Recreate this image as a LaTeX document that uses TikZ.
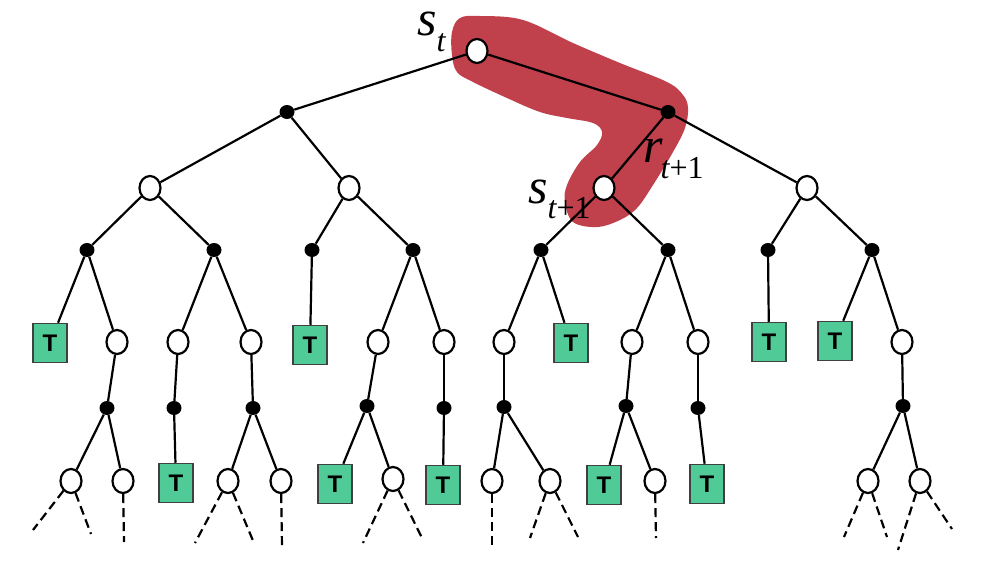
\documentclass[tikz,border=0pt]{standalone}
\usepackage{fontspec}
\setmainfont{Liberation Serif}
\newfontfamily\tfont{Liberation Sans}
\newfontfamily\lblfont{Liberation Serif}
\usetikzlibrary{shapes.geometric}
\definecolor{blobred}{RGB}{192,64,76}
\definecolor{tgreen}{RGB}{80,203,152}
\begin{document}
\begin{tikzpicture}[x=1pt,y=-1pt,
  snode/.style={ellipse,draw,line width=2.2pt,fill=white,minimum width=21pt,minimum height=24pt,inner sep=0pt},
  anode/.style={ellipse,fill=black,minimum width=15pt,minimum height=14pt,inner sep=0pt},
  tnode/.style={rectangle,draw=black!75,line width=1.5pt,fill=tgreen,minimum width=34pt,minimum height=39pt,inner sep=0pt,font=\tfont\bfseries\fontsize{24}{24}\selectfont},
  link/.style={line width=2.2pt},
  cont/.style={line width=2.2pt,dash pattern=on 9pt off 5pt},
  lbl/.style={inner sep=0pt,text height=24pt,text depth=16pt,font=\lblfont\itshape\fontsize{50}{50}\selectfont},
]
\useasboundingbox (0,0) rectangle (986,563);
% highlight blob
\fill[blobred] plot[smooth cycle, tension=0.6] coordinates {
 (460,18) (480,16) (523,20) (573,43) (620,63) (667,82) (683,95) (688,108)
 (685,128) (673,152) (653,185) (637,208) (620,220) (597,227) (573,222)
 (565,202) (567,185) (580,162) (597,145) (602,132) (593,123) (567,118)
 (540,112) (507,98) (473,82) (457,72) (452,55) (452,32)};
% level 0-2
\node[snode] (root) at (477,51) {};
\node[anode] (a1) at (287,112) {};
\node[anode] (a2) at (668,112) {};
\node[snode] (b1) at (150,188) {};
\node[snode] (b2) at (349,188) {};
\node[snode] (b3) at (604,188) {};
\node[snode] (b4) at (807,188) {};
% level 3
\node[anode] (c1) at (87,250) {};
\node[anode] (c2) at (214,250) {};
\node[anode] (c3) at (312,250) {};
\node[anode] (c4) at (413,250) {};
\node[anode] (c5) at (541,250) {};
\node[anode] (c6) at (668,250) {};
\node[anode] (c7) at (768,250) {};
\node[anode] (c8) at (872,250) {};
% level 4
\node[tnode] (d1) at (50,343) {T};
\node[snode] (d2) at (117,342) {};
\node[snode] (d3) at (178,342) {};
\node[snode] (d4) at (251,342) {};
\node[tnode] (d5) at (310,345) {T};
\node[snode] (d6) at (378,342) {};
\node[snode] (d7) at (444,342) {};
\node[snode] (d8) at (504,342) {};
\node[tnode] (d9) at (571,343) {T};
\node[snode] (d10) at (632,342) {};
\node[snode] (d11) at (698,342) {};
\node[tnode] (d12) at (769,342) {T};
\node[tnode] (d13) at (835,341) {T};
\node[snode] (d14) at (902,342) {};
% level 5
\node[anode] (e1) at (107,408) {};
\node[anode] (e2) at (174,408) {};
\node[anode] (e3) at (253,408) {};
\node[anode] (e4) at (367,406) {};
\node[anode] (e5) at (444,408) {};
\node[anode] (e6) at (504,407) {};
\node[anode] (e7) at (626,406) {};
\node[anode] (e8) at (698,408) {};
\node[anode] (e9) at (903,406) {};
% level 6
\node[snode] (f1) at (71,481) {};
\node[snode] (f2) at (123,481) {};
\node[tnode] (f3) at (176,483) {T};
\node[snode] (f4) at (228,481) {};
\node[snode] (f5) at (281,481) {};
\node[tnode] (f6) at (335,484) {T};
\node[snode] (f7) at (393,479) {};
\node[tnode] (f8) at (443,485) {T};
\node[snode] (f9) at (492,481) {};
\node[snode] (f10) at (550,481) {};
\node[tnode] (f11) at (604,485) {T};
\node[snode] (f12) at (655,481) {};
\node[tnode] (f13) at (707,484) {T};
\node[snode] (f14) at (868,481) {};
\node[snode] (f15) at (920,481) {};
% dashed continuation ends
\coordinate (g1) at (33,530);
\coordinate (g2) at (91,534);
\coordinate (g3) at (124,542);
\coordinate (g4) at (195,543);
\coordinate (g5) at (254,543);
\coordinate (g6) at (282,547);
\coordinate (g7) at (363,543);
\coordinate (g8) at (422,538);
\coordinate (g9) at (492,547);
\coordinate (g10) at (530,538);
\coordinate (g11) at (578,537);
\coordinate (g12) at (656,538);
\coordinate (g13) at (844,537);
\coordinate (g14) at (887,537);
\coordinate (g15) at (898,550);
\coordinate (g16) at (952,529);
% edges
\foreach \p/\c in {root/a1,root/a2,a1/b1,a1/b2,a2/b3,a2/b4,
  b1/c1,b1/c2,b2/c3,b2/c4,b3/c5,b3/c6,b4/c7,b4/c8,
  c1/d1,c1/d2,c2/d3,c2/d4,c3/d5,c4/d6,c4/d7,c5/d8,c5/d9,c6/d10,c6/d11,c7/d12,c8/d13,c8/d14,
  d2/e1,d3/e2,d4/e3,d6/e4,d7/e5,d8/e6,d10/e7,d11/e8,d14/e9,
  e1/f1,e1/f2,e2/f3,e3/f4,e3/f5,e4/f6,e4/f7,e5/f8,e6/f9,e6/f10,e7/f11,e7/f12,e8/f13,e9/f14,e9/f15}
  \draw[link] (\p) -- (\c);
\foreach \p/\c in {f1/g1,f1/g2,f2/g3,f4/g4,f4/g5,f5/g6,f7/g7,f7/g8,f9/g9,
  f10/g10,f10/g11,f12/g12,f14/g13,f14/g14,f15/g15,f15/g16}
  \draw[cont] (\p) -- (\c);
% labels
\node[lbl,anchor=base west] (lst) at (417,35) {s\raisebox{-16pt}{\fontsize{32}{32}\selectfont t}};
\node[lbl,anchor=base west] (lrt) at (643,162) {r\kern-2pt\raisebox{-16pt}{\fontsize{32}{32}\selectfont t\upshape+1}};
\node[lbl,anchor=base west] (lst1) at (528,203) {s\raisebox{-15pt}{\fontsize{32}{32}\selectfont t\upshape+1}};
\end{tikzpicture}
\end{document}
